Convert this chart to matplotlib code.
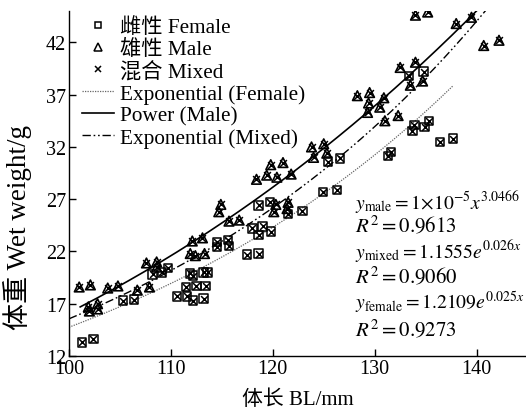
import numpy as np
import matplotlib
matplotlib.use("Agg")
import matplotlib.pyplot as plt
from matplotlib.lines import Line2D

plt.rcParams['font.family'] = ['Liberation Serif', 'Noto Sans CJK SC']
plt.rcParams['mathtext.fontset'] = 'stix'

# ---- data ----
female_x = [101.3, 102.4, 105.3, 106.4, 108.2, 109.1, 109.7, 110.6, 111.6, 112.2, 113.2,
            111.5, 112.5, 113.4, 111.9, 112.2, 113.2, 113.6, 114.5, 115.6, 115.7, 114.5,
            117.5, 118.6, 118.0, 119.0, 119.8, 118.6, 118.6, 119.7, 121.5, 122.9,
            124.9, 126.3, 125.4, 126.6, 131.3, 131.6, 133.7, 133.9, 134.9, 135.3,
            136.4, 137.7, 133.4, 134.8]
female_y = [13.3, 13.6, 17.3, 17.4, 19.8, 20.0, 20.4, 17.7, 17.7, 17.3, 17.5,
            18.6, 18.7, 18.7, 19.9, 19.7, 20.0, 20.0, 22.9, 23.1, 22.5, 22.4,
            21.7, 21.8, 24.2, 24.4, 23.9, 23.6, 26.4, 26.7, 25.6, 25.9,
            27.7, 27.9, 30.6, 30.9, 31.1, 31.5, 33.5, 34.1, 33.9, 34.5,
            32.5, 32.8, 38.8, 39.2]

male_x = [101.0, 102.1, 103.8, 104.8, 106.7, 107.9, 101.9, 102.0, 102.8, 102.8,
          107.6, 108.6, 108.6, 111.9, 112.4, 113.3, 112.1, 113.1,
          114.9, 114.7, 115.7, 116.7, 118.4, 119.4, 119.8, 121.0, 120.4, 121.8,
          120.3, 121.5, 120.1, 121.4, 123.8, 125.0, 124.0, 125.3,
          128.3, 129.5, 129.4, 130.9, 130.5, 129.3, 131.0, 132.3,
          132.5, 134.0, 133.5, 134.7, 134.0, 135.2, 138.0, 139.5, 140.7, 142.2]
male_y = [18.6, 18.8, 18.5, 18.7, 18.3, 18.6, 16.7, 16.3, 17.0, 16.5,
          20.9, 21.0, 20.5, 21.8, 21.6, 21.8, 23.0, 23.3,
          26.5, 25.8, 24.9, 25.0, 28.9, 29.3, 30.3, 30.5, 29.1, 29.4,
          26.5, 26.7, 25.8, 26.1, 32.0, 32.3, 31.0, 31.4,
          36.9, 37.2, 36.2, 36.7, 35.8, 35.3, 34.5, 35.0,
          39.6, 40.1, 37.9, 38.3, 44.6, 44.9, 43.8, 44.4, 41.7, 42.2]

mixed_x = female_x + male_x
mixed_y = female_y + male_y

fem_a, fem_b = 1.2109, 0.025
male_a, male_b = 1.303e-5, 3.0466
mix_a, mix_b = 1.1555, 0.026
fem_range = (100.0, 137.7)
male_range = (101.1, 140.5)
mix_range = (100.0, 141.5)

xticks = [100, 110, 120, 130, 140]
yticks = [12, 17, 22, 27, 32, 37, 42]

W, H = 526, 414
fig = plt.figure(figsize=(W / 100, H / 100), dpi=100)
ax = fig.add_axes([69 / W, 1 - 357 / H, (W - 69) / W, (357 - 12) / H])

ax.scatter(female_x, female_y, marker='s', s=36, facecolors='none', edgecolors='black',
           linewidths=1.1, zorder=3)
ax.scatter(male_x, male_y, marker='^', s=48, facecolors='none', edgecolors='black',
           linewidths=1.2, zorder=3)
ax.scatter(mixed_x, mixed_y, marker='x', s=24, color='black', linewidths=1.1, zorder=4)

xf = np.linspace(*fem_range, 200)
ax.plot(xf, fem_a * np.exp(fem_b * xf), color='#666666', lw=0.9, ls=(0, (1, 1)), zorder=2)
xm = np.linspace(*male_range, 200)
ax.plot(xm, male_a * xm ** male_b, color='black', lw=1.2, zorder=2)
xx = np.linspace(*mix_range, 200)
ax.plot(xx, mix_a * np.exp(mix_b * xx), color='black', lw=1.0,
        ls=(0, (6, 2, 1.2, 2, 1.2, 2)), zorder=2)

ax.set_xlim(100, 144.85)
ax.set_ylim(12, 45)
ax.set_xticks(xticks)
ax.set_yticks(yticks)
ax.tick_params(direction='in', length=5, width=1, labelsize=14.5, pad=2)
for s in ['top', 'right']:
    ax.spines[s].set_visible(False)
for s in ['left', 'bottom']:
    ax.spines[s].set_linewidth(1.0)

fig.text(298 / W, 1 - 400 / H, '体长 BL/mm', ha='center', va='center', fontsize=15)
fig.text(18 / W, 1 - 228 / H, '体重 Wet weight/g', ha='center', va='center',
         rotation=90, fontsize=19.5)

handles = [
    Line2D([], [], ls='none', marker='s', ms=5, mfc='none', mec='black', mew=1.1),
    Line2D([], [], ls='none', marker='^', ms=5.5, mfc='none', mec='black', mew=1.1),
    Line2D([], [], ls='none', marker='x', ms=5, color='black', mew=1.1),
    Line2D([], [], color='#666666', lw=0.9, ls=(0, (1, 1))),
    Line2D([], [], color='black', lw=1.2),
    Line2D([], [], color='black', lw=1.0, ls=(0, (6, 2, 1.2, 2, 1.2, 2))),
]
labels = ['雌性 Female', '雄性 Male', '混合 Mixed', 'Exponential (Female)',
          'Power (Male)', 'Exponential (Mixed)']
fig.legend(handles, labels, loc='upper left', bbox_to_anchor=(82 / W, 1 - 18 / H),
           frameon=False, fontsize=15.3, borderpad=0, borderaxespad=0,
           handlelength=1.5, handletextpad=0.28, labelspacing=0.1)

eqs = [r'$y_{\rm male} = 1{\times}10^{-5}x^{3.0466}$', r'$R^2 = 0.9613$',
       r'$y_{\rm mixed} = 1.1555e^{0.026x}$', r'$R^2 = 0.9060$',
       r'$y_{\rm female} = 1.2109e^{0.025x}$', r'$R^2 = 0.9273$']
eq_size = [14.1, 15, 14.1, 15, 14.1, 15]
eq_y = [203, 226, 252, 277, 303, 330]
for t, yy, fs in zip(eqs, eq_y, eq_size):
    fig.text(355 / W, 1 - yy / H, t, ha='left', va='center', fontsize=fs)

fig.savefig('out.png', dpi=100)
